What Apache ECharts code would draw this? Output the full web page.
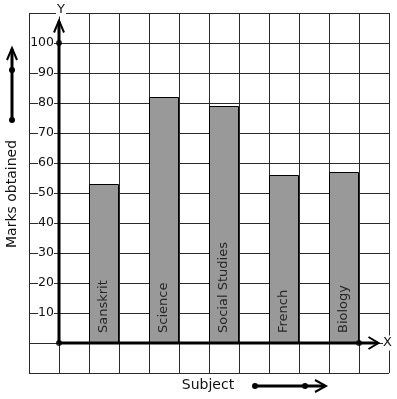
<!DOCTYPE html>
<html><head><meta charset="utf-8">
<script src="https://cdn.jsdelivr.net/npm/echarts@6/dist/echarts.min.js"></script>
<style>html,body{margin:0;padding:0;background:#fff}#c{width:397px;height:399px}</style>
</head><body><div id="c"></div>
<script>
// ---- data ----
const subjects = ['Sanskrit', 'Science', 'Social Studies', 'French', 'Biology'];
const marks = [53, 82, 79, 56, 57];
const yTickLabels = [10, 20, 30, 40, 50, 60, 70, 80, 90, 100];
const axisDots = [[0, 0], [0, 100], [10, 0]];
const yAxisEnd = 107.5;
const xAxisEnd = 10.65;

// ---- layout helpers ----
const slotCount = 12, firstSlot = 2, slotStep = 2;
const slots = Array(slotCount).fill('');
const slotValues = Array(slotCount).fill('-');
subjects.forEach((s, i) => { slots[firstSlot + i * slotStep] = s; slotValues[firstSlot + i * slotStep] = marks[i]; });

const FONT = 'DejaVu Sans';
const INK = '#111';
const GRID = '#2a2a2a';
const hiddenLine = { show: true, onZero: true, lineStyle: { color: 'rgba(0,0,0,0)', width: 0 } };

const chart = echarts.init(document.getElementById('c'), null, { renderer: 'canvas' });
chart.setOption({
  animation: false,
  backgroundColor: '#fff',
  grid: { left: 29, top: 13, width: 360, height: 360, containLabel: false, outerBoundsMode: 'none' },
  xAxis: [
    {
      type: 'value', min: -1, max: 11, interval: 1,
      axisLine: hiddenLine,
      axisTick: { show: false },
      axisLabel: { show: false },
      splitLine: { show: true, lineStyle: { color: GRID, width: 1 } },
      name: 'X', nameLocation: 'end', nameGap: -6,
      nameTextStyle: { fontFamily: FONT, fontSize: 13, color: INK, backgroundColor: '#fff', padding: [1, 0], verticalAlign: 'middle', align: 'left' }
    },
    {
      type: 'category', data: slots, boundaryGap: true, show: false,
      gridIndex: 0
    }
  ],
  yAxis: [{
    type: 'value', min: -10, max: 110, interval: 10,
    axisLine: { show: false, onZero: false },
    axisTick: { show: false },
    axisLabel: {
      inside: true, align: 'right',
      fontFamily: FONT, fontSize: 12.5, color: INK, margin: 25,
      backgroundColor: '#fff', padding: [0, 0],
      formatter: v => (yTickLabels.indexOf(v) >= 0 ? String(v) : '')
    },
    splitLine: { show: true, lineStyle: { color: GRID, width: 1 } }
  }],
  series: [
    {
      type: 'bar', xAxisIndex: 1, yAxisIndex: 0,
      data: slotValues, barWidth: '100%',
      itemStyle: { color: '#999999', borderColor: '#000', borderWidth: 1 },
      label: {
        show: true, position: 'insideBottom', rotate: 90, align: 'left', verticalAlign: 'middle',
        distance: 10, fontFamily: FONT, fontSize: 13, color: '#262626',
        formatter: p => p.name
      },
      z: 3
    },
    {
      type: 'scatter', xAxisIndex: 0, yAxisIndex: 0,
      data: axisDots, symbolSize: 6, itemStyle: { color: '#000' }, z: 6
    }
  ]
});

function px(v) { return chart.convertToPixel({ xAxisIndex: 0, yAxisIndex: 0 }, v); }
const o = px([0, 0]);
const yEnd = px([0, yAxisEnd]);
const xEnd = px([xAxisEnd, 0]);
const gridTop = px([0, 110]);
const thick = { stroke: '#000', lineWidth: 3 };
const head = { stroke: '#000', lineWidth: 2, fill: null };

function dot(x, y) { return { type: 'circle', shape: { cx: x, cy: y, r: 3 }, style: { fill: '#000' }, z: 10 }; }

chart.setOption({
  graphic: [
    // axes
    { type: 'line', shape: { x1: o[0], y1: o[1], x2: yEnd[0], y2: yEnd[1] + 1 }, style: thick, z: 5 },
    { type: 'polyline', shape: { points: [[yEnd[0] - 5, yEnd[1] + 12], [yEnd[0], yEnd[1]], [yEnd[0] + 5, yEnd[1] + 12]] }, style: head, z: 5 },
    { type: 'line', shape: { x1: o[0], y1: o[1], x2: xEnd[0] - 1, y2: xEnd[1] }, style: thick, z: 5 },
    { type: 'polyline', shape: { points: [[xEnd[0] - 10, xEnd[1] - 6], [xEnd[0], xEnd[1]], [xEnd[0] - 10, xEnd[1] + 6]] }, style: head, z: 5 },
    { type: 'text', x: o[0] + 2, y: gridTop[1] - 3,
      style: { text: 'Y', fontFamily: FONT, fontSize: 13, fill: INK, textAlign: 'center', textVerticalAlign: 'middle', backgroundColor: '#fff', padding: [0, 1] }, z: 6 },
    // left indicator
    { type: 'line', shape: { x1: 12, y1: 120, x2: 12, y2: 49 }, style: thick, z: 5 },
    { type: 'polyline', shape: { points: [[7, 60], [12, 48], [17, 60]] }, style: head, z: 5 },
    dot(12, 70), dot(12, 120),
    { type: 'text', x: 12, y: 194, rotation: Math.PI / 2,
      style: { text: 'Marks obtained', fontFamily: FONT, fontSize: 14, fill: INK, textAlign: 'center', textVerticalAlign: 'middle' } },
    // bottom indicator
    { type: 'text', x: 208, y: 385,
      style: { text: 'Subject', fontFamily: FONT, fontSize: 14, fill: INK, textAlign: 'center', textVerticalAlign: 'middle' } },
    { type: 'line', shape: { x1: 255, y1: 386, x2: 324, y2: 386 }, style: thick, z: 5 },
    { type: 'polyline', shape: { points: [[315, 380], [326, 386], [315, 392]] }, style: head, z: 5 },
    dot(255, 386), dot(305, 386)
  ]
});
</script>
</body></html>
